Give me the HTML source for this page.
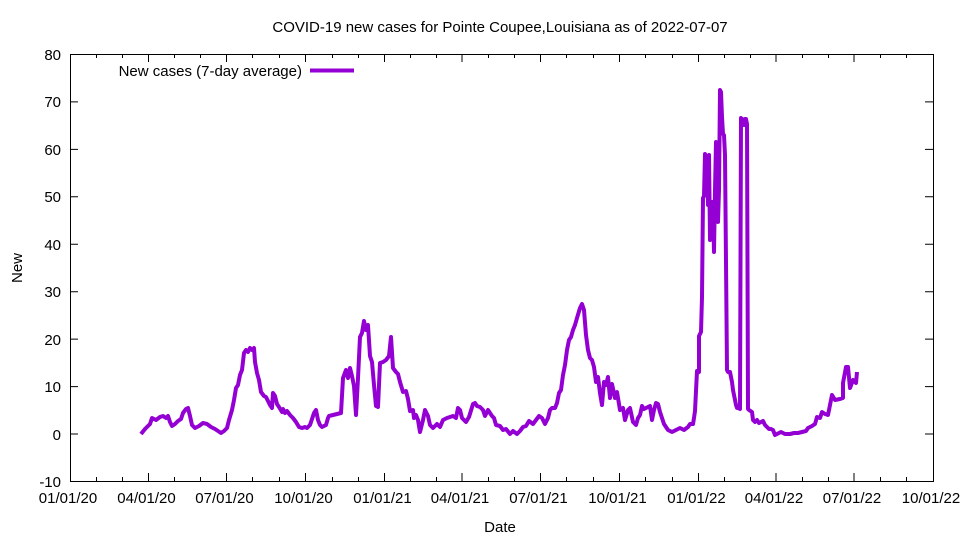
<!DOCTYPE html>
<html><head><meta charset="utf-8"><style>body{margin:0;background:#fff}svg{display:block}text{font-family:"Liberation Sans",sans-serif;font-size:15px;fill:#000}</style></head><body>
<svg width="960" height="540" viewBox="0 0 960 540">
<rect x="0" y="0" width="960" height="540" fill="#fff"/>
<g stroke="#000" stroke-width="1" fill="none">
<rect x="70.5" y="54.5" width="863" height="427"/>
<path d="M70 54.5h8M933 54.5h-8M70 101.9h8M933 101.9h-8M70 149.4h8M933 149.4h-8M70 196.8h8M933 196.8h-8M70 244.3h8M933 244.3h-8M70 291.7h8M933 291.7h-8M70 339.1h8M933 339.1h-8M70 386.6h8M933 386.6h-8M70 434h8M933 434h-8M70 481.5h8M933 481.5h-8"/>
<path d="M148.5 481v-8M148.5 54v8M226.5 481v-8M226.5 54v8M305.5 481v-8M305.5 54v8M384.5 481v-8M384.5 54v8M462 481v-8M462 54v8M540.5 481v-8M540.5 54v8M619.5 481v-8M619.5 54v8M698.5 481v-8M698.5 54v8M776 481v-8M776 54v8M854 481v-8M854 54v8"/>
<path d="M96.5 481v-4M122.5 481v-4M174.5 481v-4M200.5 481v-4M252.5 481v-4M279.5 481v-4M332.5 481v-4M358.5 481v-4M410.5 481v-4M436.5 481v-4M488.5 481v-4M514.5 481v-4M566.5 481v-4M593.5 481v-4M645.5 481v-4M672.5 481v-4M724.5 481v-4M750.5 481v-4M802.5 481v-4M828.5 481v-4M880.5 481v-4M906.5 481v-4M96.5 54v4M122.5 54v4M174.5 54v4M200.5 54v4M252.5 54v4M279.5 54v4M332.5 54v4M358.5 54v4M410.5 54v4M436.5 54v4M488.5 54v4M514.5 54v4M566.5 54v4M593.5 54v4M645.5 54v4M672.5 54v4M724.5 54v4M750.5 54v4M802.5 54v4M828.5 54v4M880.5 54v4M906.5 54v4"/>
</g>
<g text-anchor="middle">
<text x="68" y="503">01/01/20</text><text x="146.5" y="503">04/01/20</text><text x="224.5" y="503">07/01/20</text><text x="303.5" y="503">10/01/20</text><text x="382.5" y="503">01/01/21</text><text x="460" y="503">04/01/21</text><text x="538.5" y="503">07/01/21</text><text x="617.5" y="503">10/01/21</text><text x="696.5" y="503">01/01/22</text><text x="774" y="503">04/01/22</text><text x="852" y="503">07/01/22</text><text x="931" y="503">10/01/22</text>
<text x="500" y="532">Date</text>
<text x="500" y="32">COVID-19 new cases for Pointe Coupee,Louisiana as of 2022-07-07</text>
</g>
<g text-anchor="end">
<text x="61" y="60">80</text><text x="61" y="107">70</text><text x="61" y="155">60</text><text x="61" y="202">50</text><text x="61" y="250">40</text><text x="61" y="297">30</text><text x="61" y="345">20</text><text x="61" y="392">10</text><text x="61" y="440">0</text><text x="61" y="487">-10</text>
</g>
<text x="22" y="268" text-anchor="middle" transform="rotate(-90 22 268)">New</text>
<text x="302" y="76" text-anchor="end">New cases (7-day average)</text>
<path d="M310 70.5h44" stroke="#9400d3" stroke-width="4"/>
<polyline fill="none" stroke="#9400d3" stroke-width="4" stroke-linejoin="round" points="141,434 145,429 150,424 152,418 156,420 160,417 163,416 166,418 168,416 170,422 172,426 175,424 178,421 181,419 183,413 186,409 188,408 190,416 192,425 195,428 199,426 203,423 207,424 211,427 215,429 218,431 221,433 224,431 227,428 229,420 232,410 234,400 236,388 238,385 240,375 242,370 244,353 246,350 248,352 250,348 252,350 254,348 255,362 257,373 259,380 261,392 264,396 266,397 268,401 270,405 272,408 273,393 275,396 277,404 279,407 282,412 283,409 285,413 287,411 290,415 293,418 296,422 299,427 302,428 305,427 307,428 310,425 312,419 314,413 316,410 318,420 320,425 322,427 326,425 328,418 329,416 341,413 343,378 346,370 348,378 350,368 352,376 354,386 356,415 358,378 360,337 362,333 364,321 366,330 368,325 370,356 372,362 374,385 376,406 378,407 380,363 383,362 386,360 389,356 391,337 393,368 396,372 398,374 400,382 403,392 406,391 408,399 410,411 413,410 414,418 416,415 418,420 420,432 421,428 423,420 425,410 428,416 430,425 433,428 437,424 440,427 443,420 447,418 450,417 453,416 456,418 458,408 460,410 462,418 466,422 469,417 473,404 475,403 477,406 480,407 483,410 485,416 488,410 492,416 494,418 496,425 500,426 503,430 506,429 510,434 513,431 517,434 520,431 523,427 526,426 529,421 533,424 536,420 539,416 542,418 545,424 548,418 550,410 552,408 555,408 557,403 559,393 561,390 563,375 565,365 567,350 569,340 571,337 573,330 575,325 577,318 580,308 582,304 584,310 586,335 588,350 590,358 592,360 594,367 596,382 598,377 600,393 602,405 604,382 606,385 608,377 610,398 612,384 615,398 617,392 620,410 623,408 625,420 628,410 630,408 633,422 636,425 638,418 640,415 642,406 644,409 646,408 650,406 652,420 654,410 656,403 658,404 660,412 664,424 668,430 672,432 676,430 680,428 684,430 688,427 690,424 693,424 694,418 695,411 697,371 699,372 699,336 701,332 702,297 703,198 704,196 705,154 707,168 708,205 709,155 710,240 711,203 712,202 713,206 714,252 715,190 716,142 717,145 718,222 719,190 720,90 721,92 722,117 723,134 724,135 725,155 726,262 727,370 728,372 730,372 732,382 733,390 734,395 736,405 737,408 738,408 740,409 741,118 743,120 744,125 745,119 746,119 747,124 748,409 749,410 752,412 753,420 755,422 757,420 759,423 761,422 763,421 765,425 767,427 769,429 771,429 773,430 775,435 777,434 781,432 785,434 790,434 794,433 798,433 802,432 806,431 808,428 812,426 815,424 817,417 820,418 822,412 825,414 828,415 832,395 835,400 840,399 843,398 843,383 846,367 848,367 850,388 853,380 856,383 857,372"/>
</svg>
</body></html>
